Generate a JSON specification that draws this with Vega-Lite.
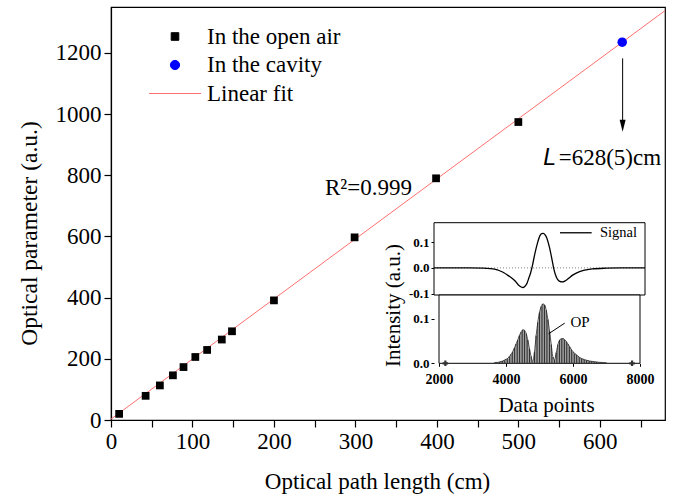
{
  "$schema": "https://vega.github.io/schema/vega-lite/v6.json",
  "width": 554,
  "height": 413,
  "autosize": "none",
  "padding": {"left": 111, "top": 7, "right": 15, "bottom": 80},
  "config": {
    "font": "Liberation Serif",
    "view": {"stroke": "black", "strokeWidth": 1.2},
    "axis": {"grid": false, "domainColor": "black", "tickColor": "black", "labelColor": "black", "titleColor": "black", "titleFontWeight": "normal", "labelFont": "Liberation Serif", "titleFont": "Liberation Serif"},
    "legend": {"labelFont": "Liberation Serif"},
    "text": {"font": "Liberation Serif"}
  },
  "datasets": {
    "fit": [{"x": 0, "y": 3, "series": "Linear fit"}, {"x": 680, "y": 1338, "series": "Linear fit"}],
    "air": [
      {"x": 10, "y": 20, "series": "In the open air"},
      {"x": 42.5, "y": 79, "series": "In the open air"},
      {"x": 60, "y": 113, "series": "In the open air"},
      {"x": 76, "y": 146, "series": "In the open air"},
      {"x": 89, "y": 173, "series": "In the open air"},
      {"x": 103.5, "y": 206, "series": "In the open air"},
      {"x": 118, "y": 229, "series": "In the open air"},
      {"x": 136, "y": 263, "series": "In the open air"},
      {"x": 148.5, "y": 290, "series": "In the open air"},
      {"x": 200, "y": 391, "series": "In the open air"},
      {"x": 299, "y": 597, "series": "In the open air"},
      {"x": 399, "y": 790, "series": "In the open air"},
      {"x": 500, "y": 974, "series": "In the open air"}
    ],
    "cavity": [{"x": 627.5, "y": 1235, "series": "In the cavity"}],
    "signal": [
      {"x": 2000, "y": 0}, {"x": 2500, "y": 0}, {"x": 3000, "y": 0}, {"x": 3400, "y": -0.001},
      {"x": 3600, "y": -0.003}, {"x": 3800, "y": -0.008}, {"x": 3900, "y": -0.013}, {"x": 4000, "y": -0.02},
      {"x": 4100, "y": -0.029}, {"x": 4200, "y": -0.038}, {"x": 4300, "y": -0.05}, {"x": 4400, "y": -0.066},
      {"x": 4480, "y": -0.074}, {"x": 4530, "y": -0.076}, {"x": 4580, "y": -0.072}, {"x": 4640, "y": -0.061},
      {"x": 4700, "y": -0.038}, {"x": 4750, "y": -0.018}, {"x": 4800, "y": 0.01}, {"x": 4870, "y": 0.056},
      {"x": 4940, "y": 0.095}, {"x": 5010, "y": 0.124}, {"x": 5060, "y": 0.133}, {"x": 5110, "y": 0.134},
      {"x": 5160, "y": 0.128}, {"x": 5210, "y": 0.115}, {"x": 5280, "y": 0.081}, {"x": 5350, "y": 0.036},
      {"x": 5410, "y": -0.006}, {"x": 5480, "y": -0.036}, {"x": 5560, "y": -0.051}, {"x": 5650, "y": -0.054},
      {"x": 5720, "y": -0.051}, {"x": 5780, "y": -0.046}, {"x": 5860, "y": -0.037}, {"x": 5920, "y": -0.03},
      {"x": 6060, "y": -0.019}, {"x": 6250, "y": -0.01}, {"x": 6500, "y": -0.004}, {"x": 6900, "y": -0.001},
      {"x": 7300, "y": 0}, {"x": 8000, "y": 0}
    ],
    "op": [
      {"x": 3650, "y": 0.001}, {"x": 3700, "y": 0.002}, {"x": 3750, "y": 0.002}, {"x": 3800, "y": 0.003},
      {"x": 3850, "y": 0.004}, {"x": 3900, "y": 0.005}, {"x": 3950, "y": 0.007}, {"x": 4000, "y": 0.009},
      {"x": 4050, "y": 0.011}, {"x": 4100, "y": 0.015}, {"x": 4150, "y": 0.02}, {"x": 4200, "y": 0.026},
      {"x": 4250, "y": 0.034}, {"x": 4300, "y": 0.043}, {"x": 4350, "y": 0.052}, {"x": 4400, "y": 0.062},
      {"x": 4450, "y": 0.07}, {"x": 4500, "y": 0.075}, {"x": 4550, "y": 0.074}, {"x": 4600, "y": 0.067},
      {"x": 4650, "y": 0.052}, {"x": 4700, "y": 0.033}, {"x": 4750, "y": 0.015}, {"x": 4800, "y": 0.004},
      {"x": 4850, "y": 0.025}, {"x": 4900, "y": 0.062}, {"x": 4950, "y": 0.092}, {"x": 5000, "y": 0.114},
      {"x": 5050, "y": 0.127}, {"x": 5100, "y": 0.133}, {"x": 5150, "y": 0.131}, {"x": 5200, "y": 0.119},
      {"x": 5250, "y": 0.098}, {"x": 5300, "y": 0.072}, {"x": 5350, "y": 0.042}, {"x": 5400, "y": 0.014},
      {"x": 5450, "y": 0.008}, {"x": 5500, "y": 0.024}, {"x": 5550, "y": 0.042}, {"x": 5600, "y": 0.052},
      {"x": 5650, "y": 0.055}, {"x": 5700, "y": 0.0555}, {"x": 5750, "y": 0.053}, {"x": 5800, "y": 0.049},
      {"x": 5850, "y": 0.043}, {"x": 5900, "y": 0.037}, {"x": 5950, "y": 0.031}, {"x": 6000, "y": 0.026},
      {"x": 6050, "y": 0.022}, {"x": 6100, "y": 0.019}, {"x": 6150, "y": 0.016}, {"x": 6200, "y": 0.013},
      {"x": 6250, "y": 0.011}, {"x": 6300, "y": 0.0095}, {"x": 6350, "y": 0.008}, {"x": 6400, "y": 0.007},
      {"x": 6450, "y": 0.006}, {"x": 6500, "y": 0.005}, {"x": 6550, "y": 0.0045}, {"x": 6600, "y": 0.004},
      {"x": 6650, "y": 0.0035}, {"x": 6700, "y": 0.003}, {"x": 6750, "y": 0.0025}, {"x": 6800, "y": 0.002},
      {"x": 6850, "y": 0.002}, {"x": 6900, "y": 0.0015}, {"x": 6950, "y": 0.0015}, {"x": 7000, "y": 0.001}
    ]
  },
  "layer": [
    {
      "layer": [
        {
          "data": {"name": "fit"},
          "mark": {"type": "line", "strokeWidth": 1, "clip": true},
          "encoding": {
            "x": {"field": "x", "type": "quantitative", "scale": {"domain": [0, 680], "nice": false, "zero": false},
              "axis": {"orient": "bottom", "title": "Optical path length (cm)", "values": [0, 50, 100, 150, 200, 250, 300, 350, 400, 450, 500, 550, 600, 650],
                "labelExpr": "datum.value % 100 === 0 ? datum.label : ''", "tickSize": 7, "labelFont": "Liberation Serif", "labelFontSize": 23, "labelPadding": 3,
                "titleFont": "Liberation Serif", "titleFontSize": 23, "titlePadding": 17, "titleX": 266, "domainWidth": 1.2, "tickWidth": 1.2, "labelFlush": false, "labelOverlap": false,
                "encode": {"ticks": {"update": {"y2": {"signal": "datum.value % 100 === 0 ? 7 : 4"}}}}}},
            "y": {"field": "y", "type": "quantitative", "scale": {"domain": [0, 1350], "nice": false, "zero": false},
              "axis": {"orient": "left", "title": "Optical parameter (a.u.)", "values": [0, 100, 200, 300, 400, 500, 600, 700, 800, 900, 1000, 1100, 1200, 1300],
                "labelExpr": "datum.value % 200 === 0 ? datum.label : ''", "tickSize": 7, "labelFont": "Liberation Serif", "labelFontSize": 23, "labelPadding": 3,
                "titleFont": "Liberation Serif", "titleFontSize": 23.5, "titlePadding": 14, "titleY": 226, "domainWidth": 1.2, "tickWidth": 1.2, "labelFlush": false, "labelOverlap": false, "format": "d",
                "encode": {"ticks": {"update": {"x2": {"signal": "datum.value % 200 === 0 ? -7 : -4"}}}}}},
            "color": {"field": "series", "type": "nominal",
              "scale": {"domain": ["In the open air", "In the cavity", "Linear fit"], "range": ["#000000", "#0000ff", "#ff6f6f"]},
              "legend": {"orient": "none", "legendX": 52.5, "legendY": 18, "title": null, "labelFontSize": 23, "labelFont": "Liberation Serif",
                "labelColor": "black", "symbolSize": 100, "symbolStrokeWidth": 1, "labelOffset": 20.5, "rowPadding": 4.5, "padding": 0,
                "encode": {"symbols": {"update": {
                  "shape": {"signal": "datum.value === 'Linear fit' ? 'stroke' : datum.value === 'In the cavity' ? 'circle' : 'square'"},
                  "size": {"signal": "datum.value === 'Linear fit' ? 2704 : datum.value === 'In the cavity' ? 85 : 58"},
                  "fill": {"signal": "datum.value === 'Linear fit' ? 'transparent' : datum.value === 'In the cavity' ? '#0000ff' : '#000000'"},
                  "stroke": {"signal": "datum.value === 'Linear fit' ? '#ff6f6f' : 'transparent'"},
                  "strokeWidth": {"value": 1},
                  "opacity": {"value": 1}
                }}}}}
          }
        },
        {
          "data": {"name": "air"},
          "mark": {"type": "point", "shape": "square", "filled": true, "size": 60, "opacity": 1},
          "encoding": {
            "x": {"field": "x", "type": "quantitative"},
            "y": {"field": "y", "type": "quantitative"},
            "color": {"field": "series", "type": "nominal"}
          }
        },
        {
          "data": {"name": "cavity"},
          "mark": {"type": "point", "shape": "circle", "filled": true, "size": 90, "opacity": 1},
          "encoding": {
            "x": {"field": "x", "type": "quantitative"},
            "y": {"field": "y", "type": "quantitative"},
            "color": {"field": "series", "type": "nominal"}
          }
        },
        {
          "data": {"values": [{"x": 262.7, "y": 735, "t": "R²=0.999"}]},
          "mark": {"type": "text", "align": "left", "baseline": "alphabetic", "fontSize": 23, "font": "Liberation Serif", "color": "black"},
          "encoding": {"x": {"field": "x", "type": "quantitative"}, "y": {"field": "y", "type": "quantitative"}, "text": {"field": "t"}}
        },
        {
          "data": {"values": [{"x": 628, "y": 1182, "y2": 970}]},
          "mark": {"type": "rule", "color": "black", "strokeWidth": 1},
          "encoding": {"x": {"field": "x", "type": "quantitative"}, "y": {"field": "y", "type": "quantitative"}, "y2": {"field": "y2"}}
        },
        {
          "data": {"values": [{"x": 628, "y": 962}]},
          "mark": {"type": "point", "shape": "M-0.5,-1L0.5,-1L0,1Z", "size": 144, "filled": true, "color": "black", "opacity": 1},
          "encoding": {"x": {"field": "x", "type": "quantitative"}, "y": {"field": "y", "type": "quantitative"}}
        },
        {
          "data": {"values": [{"x": 530.5, "y": 834, "t": "L"}]},
          "mark": {"type": "text", "align": "left", "baseline": "alphabetic", "fontSize": 23, "font": "Liberation Sans", "fontStyle": "italic", "color": "black"},
          "encoding": {"x": {"field": "x", "type": "quantitative"}, "y": {"field": "y", "type": "quantitative"}, "text": {"field": "t"}}
        },
        {
          "data": {"values": [{"x": 549.5, "y": 834, "t": "=628(5)cm"}]},
          "mark": {"type": "text", "align": "left", "baseline": "alphabetic", "fontSize": 23, "font": "Liberation Serif", "color": "black"},
          "encoding": {"x": {"field": "x", "type": "quantitative"}, "y": {"field": "y", "type": "quantitative"}, "text": {"field": "t"}}
        }
      ]
    },
    {
      "layer": [
        {
          "data": {"values": [{"x": 2000, "x2": 8000, "y": -0.105, "y2": 0.175}]},
          "mark": {"type": "rect", "fill": "white", "stroke": "black", "strokeWidth": 1},
          "encoding": {
            "x": {"field": "x", "type": "quantitative", "scale": {"domain": [2000, 8000], "range": [323, 534], "nice": false, "zero": false}, "axis": null},
            "x2": {"field": "x2"},
            "y": {"field": "y", "type": "quantitative", "scale": {"domain": [-0.105, 0.175], "range": [288, 215.7], "nice": false, "zero": false},
              "axis": {"orient": "left", "offset": -323, "title": null, "values": [-0.1, 0, 0.1], "format": ".1f", "labelExpr": "replace(datum.label, '−', '-')",
                "domain": false, "tickSize": 3, "labelPadding": 2, "labelFont": "Liberation Serif", "labelFontSize": 13, "labelFontWeight": "bold", "labelFlush": false, "labelOverlap": false}},
            "y2": {"field": "y2"}
          }
        },
        {
          "data": {"values": [{"x": 2000, "x2": 8000, "y": 0}]},
          "mark": {"type": "rule", "color": "#666666", "strokeWidth": 0.8, "strokeDash": [1, 2]},
          "encoding": {"x": {"field": "x", "type": "quantitative"}, "x2": {"field": "x2"}, "y": {"field": "y", "type": "quantitative"}}
        },
        {
          "data": {"name": "signal"},
          "mark": {"type": "line", "color": "black", "strokeWidth": 1.3, "interpolate": "monotone"},
          "encoding": {"x": {"field": "x", "type": "quantitative"}, "y": {"field": "y", "type": "quantitative"}}
        },
        {
          "data": {"values": [{"x": 5583, "x2": 6484, "y": 0.136}]},
          "mark": {"type": "rule", "color": "black", "strokeWidth": 1.3},
          "encoding": {"x": {"field": "x", "type": "quantitative"}, "x2": {"field": "x2"}, "y": {"field": "y", "type": "quantitative"}}
        },
        {
          "data": {"values": [{"x": 6720, "y": 0.136, "t": "Signal"}]},
          "mark": {"type": "text", "align": "left", "baseline": "middle", "fontSize": 14.5, "font": "Liberation Serif", "color": "black"},
          "encoding": {"x": {"field": "x", "type": "quantitative"}, "y": {"field": "y", "type": "quantitative"}, "text": {"field": "t"}}
        }
      ]
    },
    {
      "layer": [
        {
          "data": {"values": [{"x": 2000, "x2": 8000, "y": 0, "y2": 0.153}]},
          "mark": {"type": "rect", "fill": "white", "stroke": "black", "strokeWidth": 1},
          "encoding": {
            "x": {"field": "x", "type": "quantitative", "scale": {"domain": [2000, 8000], "range": [323, 534], "nice": false, "zero": false},
              "axis": {"orient": "bottom", "offset": -56.7, "title": "Data points", "values": [2000, 4000, 6000, 8000], "format": "d",
                "domain": false, "tickSize": 3, "labelPadding": 6, "labelFont": "Liberation Serif", "labelFontSize": 14, "labelFontWeight": "bold", "labelFlush": false, "labelOverlap": false,
                "titleFont": "Liberation Serif", "titleFontSize": 21, "titlePadding": 8, "titleX": 435}},
            "x2": {"field": "x2"},
            "y": {"field": "y", "type": "quantitative", "scale": {"domain": [0, 0.153], "range": [356.3, 288], "nice": false, "zero": false},
              "axis": {"orient": "left", "offset": -323, "title": "Intensity (a.u.)", "values": [0, 0.1], "format": ".1f",
                "domain": false, "tickSize": 3, "labelPadding": 2, "labelFont": "Liberation Serif", "labelFontSize": 13, "labelFontWeight": "bold", "labelFlush": false, "labelOverlap": false,
                "titleFont": "Liberation Serif", "titleFontSize": 21, "titleX": -31, "titleY": 298}},
            "y2": {"field": "y2"}
          }
        },
        {
          "data": {"name": "op"},
          "mark": {"type": "bar", "color": "#333333", "size": 1.2},
          "encoding": {"x": {"field": "x", "type": "quantitative"}, "y": {"field": "y", "type": "quantitative"}}
        },
        {
          "data": {"name": "op"},
          "mark": {"type": "line", "color": "#222222", "strokeWidth": 0.8, "interpolate": "monotone"},
          "encoding": {"x": {"field": "x", "type": "quantitative"}, "y": {"field": "y", "type": "quantitative"}}
        },
        {
          "data": {"values": [{"x": 5753, "x2": 5270, "y": 0.09, "y2": 0.066}]},
          "mark": {"type": "rule", "color": "black", "strokeWidth": 1},
          "encoding": {"x": {"field": "x", "type": "quantitative"}, "x2": {"field": "x2"}, "y": {"field": "y", "type": "quantitative"}, "y2": {"field": "y2"}}
        },
        {
          "data": {"values": [{"x": 5924, "y": 0.081, "t": "OP"}]},
          "mark": {"type": "text", "align": "left", "baseline": "alphabetic", "fontSize": 15, "font": "Liberation Serif", "color": "black"},
          "encoding": {"x": {"field": "x", "type": "quantitative"}, "y": {"field": "y", "type": "quantitative"}, "text": {"field": "t"}}
        },
        {
          "data": {"values": [{"x": 2190, "y": 0}, {"x": 7763, "y": 0}]},
          "mark": {"type": "point", "shape": "cross", "size": 30, "filled": true, "color": "#333333", "opacity": 1},
          "encoding": {"x": {"field": "x", "type": "quantitative"}, "y": {"field": "y", "type": "quantitative"}}
        }
      ]
    }
  ],
  "resolve": {"scale": {"x": "independent", "y": "independent"}, "axis": {"x": "independent", "y": "independent"}}
}
